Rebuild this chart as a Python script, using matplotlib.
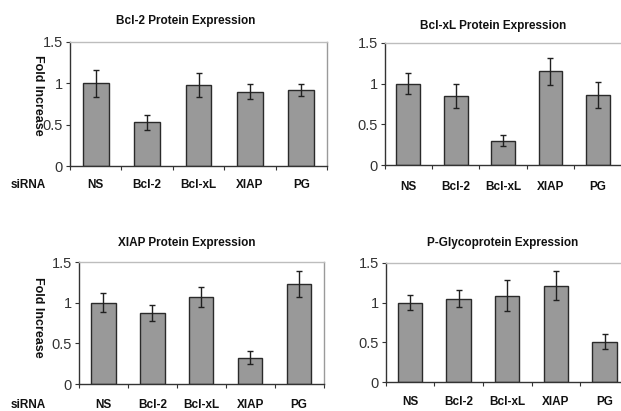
import matplotlib
matplotlib.use("Agg")
import matplotlib.pyplot as plt
import numpy as np

categories = ["NS", "Bcl-2", "Bcl-xL", "XIAP", "PG"]

titles = ["Bcl-2 Protein Expression", "Bcl-xL Protein Expression",
          "XIAP Protein Expression", "P-Glycoprotein Expression"]

bcl2_vals = [1.00, 0.53, 0.98, 0.90, 0.92]
bcl2_err = [0.16, 0.09, 0.14, 0.095, 0.07]

bclxl_vals = [1.00, 0.85, 0.30, 1.15, 0.865]
bclxl_err = [0.13, 0.15, 0.07, 0.165, 0.16]

xiap_vals = [1.00, 0.875, 1.07, 0.32, 1.23]
xiap_err = [0.115, 0.10, 0.125, 0.08, 0.16]

pgp_vals = [1.00, 1.05, 1.09, 1.215, 0.51]
pgp_err = [0.095, 0.105, 0.19, 0.18, 0.097]

yticks = [0, 0.5, 1, 1.5]
ytick_labels = ["0", "0.5", "1", "1.5"]

W, H = 621, 411
fig = plt.figure(figsize=(W / 100, H / 100), dpi=100)

narrow = ["Liberation Sans Narrow", "Liberation Sans", "DejaVu Sans"]
boldf = ["Liberation Sans", "DejaVu Sans"]
FS = 8.5

def px_axes(x0, x1, ytop, yzero):
    return fig.add_axes([x0 / W, 1 - yzero / H, (x1 - x0) / W, (yzero - ytop) / H])

panels = [
    (px_axes(70, 327, 42, 166), bcl2_vals, bcl2_err, titles[0], True, (186, 21), 185, 95),
    (px_axes(384.6, 621.5, 43, 165), bclxl_vals, bclxl_err, titles[1], False, (493, 26), 187, None),
    (px_axes(79, 323.5, 262, 384), xiap_vals, xiap_err, titles[2], True, (187, 243), 405, 317),
    (px_axes(385.6, 629, 263, 382), pgp_vals, pgp_err, titles[3], False, (503, 243), 402, None),
]

for ax, vals, errs, title, left, tpos, xly, ycen in panels:
    x = np.arange(len(categories))
    ax.bar(x, vals, width=0.5, color="#999999", edgecolor="#2a2a2a", linewidth=1.0, zorder=2)
    ax.errorbar(x, vals, yerr=errs, fmt="none", ecolor="#202020", elinewidth=1.0,
                capsize=2.5, capthick=1.0, zorder=3)
    ax.set_xlim(-0.5, len(categories) - 0.5)
    ax.set_ylim(0, 1.5)
    ax.set_yticks(yticks)
    ax.set_yticklabels(ytick_labels, fontfamily=narrow, fontsize=10.5, color="#222222")
    ax.set_xticks(np.arange(len(categories) + 1) - 0.5)
    ax.set_xticklabels([])
    ax.tick_params(axis="y", direction="out", length=3, width=0.8, pad=2, colors="#333333")
    ax.tick_params(axis="x", direction="out", length=3, width=0.8, colors="#333333")
    ax.spines["left"].set_color("#333333")
    ax.spines["bottom"].set_color("#333333")
    ax.spines["top"].set_color("#bdbdbd")
    ax.spines["right"].set_color("#9a9a9a")
    for s in ax.spines.values():
        s.set_linewidth(1.0)
    ax.set_facecolor("white")
    fig.text(tpos[0] / W, 1 - tpos[1] / H, title, ha="center", va="center",
             fontsize=FS, fontweight="bold", fontfamily=boldf, color="#111111")
    for i, c in enumerate(categories):
        xd = ax.transData.transform((i, 0))[0]
        fig.text(xd / W, 1 - xly / H, c, ha="center", va="center",
                 fontsize=FS, fontweight="bold", fontfamily=boldf, color="#111111")
    if left:
        fig.text(28 / W, 1 - xly / H, "siRNA", ha="center", va="center",
                 fontsize=FS, fontweight="bold", fontfamily=boldf, color="#111111")
        fig.text(37.5 / W, 1 - ycen / H, "Fold Increase", rotation=-90, ha="center", va="center",
                 fontsize=9, fontweight="bold", fontfamily=boldf, color="#111111")

fig.savefig("out.png", dpi=100, facecolor="white")
